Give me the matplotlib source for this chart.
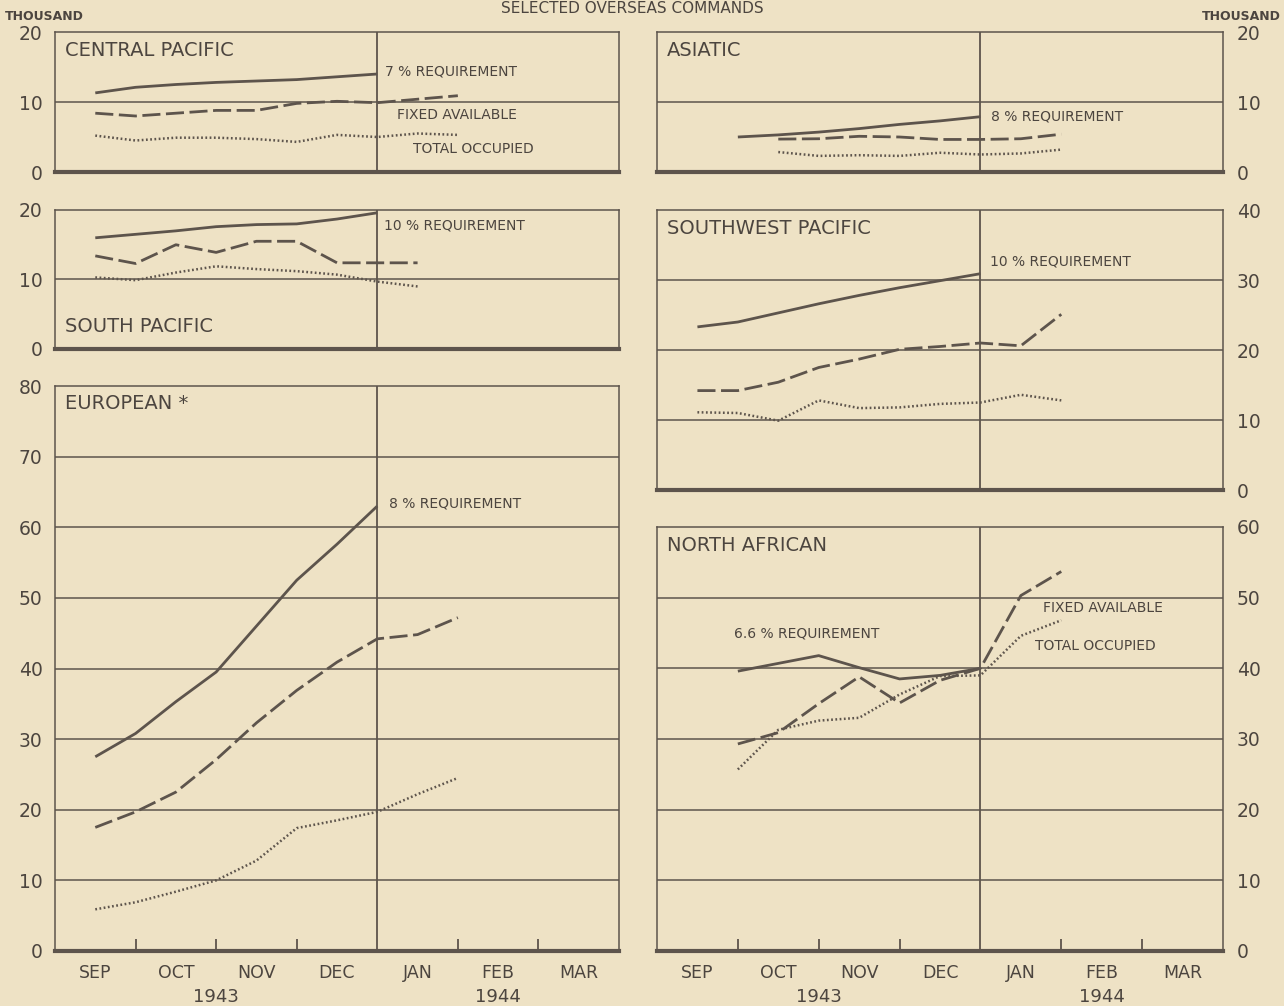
import matplotlib
matplotlib.use("Agg")
import matplotlib.pyplot as plt
import matplotlib.transforms as mtransforms

# ---------------- data (thousand beds) ----------------
# x positions: months elapsed since 1 Sep 1943 (0.5 = mid-Sep, 4.0 = 1 Jan 1944)
x_req_a = [0.5, 1.0, 1.5, 2.0, 2.5, 3.0, 3.5, 4.0]
x_avl_a = [0.5, 1.0, 1.5, 2.0, 2.5, 3.0, 3.5, 4.0, 4.5, 5.0]
x_avl_sp = [0.5, 1.0, 1.5, 2.0, 2.5, 3.0, 3.5, 4.0, 4.5]
x_req_b = [1.0, 1.5, 2.0, 2.5, 3.0, 3.5, 4.0]
x_avl_as = [1.5, 2.0, 2.5, 3.0, 3.5, 4.0, 4.5, 5.0]
x_avl_na = [1.0, 1.5, 2.0, 2.5, 3.0, 3.5, 4.0, 4.5, 5.0]

cp_req = [11.3, 12.1, 12.5, 12.8, 13.0, 13.2, 13.6, 14.0]
cp_fixed = [8.4, 8.0, 8.4, 8.8, 8.8, 9.8, 10.1, 9.9, 10.4, 10.9]
cp_occ = [5.2, 4.5, 4.9, 4.9, 4.7, 4.3, 5.3, 5.0, 5.5, 5.3]

sp_req = [16.0, 16.5, 17.0, 17.6, 17.9, 18.0, 18.7, 19.6]
sp_fixed = [13.4, 12.3, 15.0, 13.9, 15.5, 15.5, 12.4, 12.4, 12.4]
sp_occ = [10.3, 9.9, 11.0, 11.9, 11.5, 11.2, 10.7, 9.7, 9.0]

eu_req = [27.5, 30.8, 35.3, 39.5, 46.0, 52.5, 57.6, 63.0]
eu_fixed = [17.5, 19.7, 22.5, 27.1, 32.3, 36.9, 40.9, 44.2, 44.8, 47.2]
eu_occ = [5.9, 6.9, 8.4, 10.0, 12.8, 17.4, 18.5, 19.7, 22.2, 24.5]

as_req = [5.0, 5.3, 5.7, 6.2, 6.8, 7.3, 7.9]
as_fixed = [4.7, 4.75, 5.1, 5.0, 4.65, 4.65, 4.75, 5.4]
as_occ = [2.85, 2.3, 2.4, 2.3, 2.75, 2.5, 2.65, 3.2]

sw_req = [23.3, 24.0, 25.3, 26.6, 27.8, 28.9, 29.9, 30.9]
sw_fixed = [14.2, 14.2, 15.4, 17.5, 18.7, 20.1, 20.5, 21.0, 20.6, 25.1]
sw_occ = [11.1, 11.0, 9.9, 12.8, 11.7, 11.8, 12.3, 12.5, 13.6, 12.8]

na_req = [39.6, 40.7, 41.8, 40.1, 38.5, 39.0, 40.0]
na_fixed = [29.3, 30.9, 35.0, 38.8, 35.1, 38.3, 40.0, 50.3, 53.7]
na_occ = [25.7, 31.3, 32.6, 33.0, 36.3, 38.9, 39.0, 44.6, 46.8]

month_labels = ["SEP", "OCT", "NOV", "DEC", "JAN", "FEB", "MAR"]
year_labels = ["1943", "1944"]
title = "SELECTED OVERSEAS COMMANDS"

# ---------------- style ----------------
BG = "#eee2c5"
INK = "#5d544c"
TXT = "#4c453f"
plt.rcParams["font.family"] = ["DejaVu Sans"]

W, H = 1284, 1006
fig = plt.figure(figsize=(W / 100, H / 100), dpi=100, facecolor=BG)


def px_axes(x0, y_top, x1, y_bot):
    return fig.add_axes([x0 / W, 1 - y_bot / H, (x1 - x0) / W, (y_bot - y_top) / H])


def setup(ax, ymax, step, side, months=False):
    ax.set_facecolor(BG)
    ax.set_xlim(0, 7)
    ax.set_ylim(0, ymax)
    ticks = list(range(0, ymax + 1, step))
    ax.set_yticks(ticks)
    ax.set_yticklabels([str(t) for t in ticks])
    for t in ticks[1:-1]:
        ax.axhline(t, color=INK, lw=1.1, zorder=1)
    ax.axvline(4, color=INK, lw=1.3, zorder=1)
    for s in ["top", "left", "right"]:
        ax.spines[s].set_color(INK)
        ax.spines[s].set_linewidth(1.1)
    ax.spines["bottom"].set_color(INK)
    ax.spines["bottom"].set_linewidth(3.0)
    ax.tick_params(axis="y", length=0, labelsize=13.5, colors=TXT, pad=9)
    if side == "right":
        ax.yaxis.tick_right()
        ax.tick_params(axis="y", length=0, pad=10)
    if months:
        ax.set_xticks([1, 2, 3, 5, 6])
        ax.set_xticklabels([])
        ax.tick_params(axis="x", which="major", direction="in", length=9,
                       width=1.3, color=INK)
        ax.set_xticks([i + 0.5 for i in range(7)], minor=True)
        ax.set_xticklabels(month_labels, minor=True)
        ax.tick_params(axis="x", which="minor", length=0, labelsize=12.5,
                       colors=TXT, pad=9)
        tr = mtransforms.blended_transform_factory(ax.transData, fig.transFigure)
        ax.text(2.0, 1 - 997 / H, year_labels[0], transform=tr, ha="center",
                va="center", fontsize=13, color=TXT)
        ax.text(5.5, 1 - 997 / H, year_labels[1], transform=tr, ha="center",
                va="center", fontsize=13, color=TXT)
    else:
        ax.set_xticks([])


def draw(ax, xr, req, xa, fixed, xo, occ):
    ax.plot(xr, req, color=INK, lw=2.0, solid_capstyle="butt", zorder=3)
    ax.plot(xa, fixed, color=INK, lw=2.0, linestyle=(0, (6.5, 2.0)), zorder=3)
    ax.plot(xo, occ, color=INK, lw=1.8, linestyle=(0, (0.7, 1.0)), zorder=3)


def label(ax, x, y, s, size=10, ha="left"):
    ax.text(x, y, s, fontsize=size, color=TXT, ha=ha, va="center", zorder=4)


LX0, LX1 = 55, 619
RX0, RX1 = 657, 1223

# Central Pacific
ax = px_axes(LX0, 32, LX1, 172)
setup(ax, 20, 10, "left")
draw(ax, x_req_a, cp_req, x_avl_a, cp_fixed, x_avl_a, cp_occ)
label(ax, 0.12, 17.3, "CENTRAL PACIFIC", 14)
label(ax, 4.1, 14.3, "7 % REQUIREMENT")
label(ax, 4.24, 8.1, "FIXED AVAILABLE")
label(ax, 4.44, 3.3, "TOTAL OCCUPIED")

# South Pacific
ax = px_axes(LX0, 210, LX1, 349)
setup(ax, 20, 10, "left")
draw(ax, x_req_a, sp_req, x_avl_sp, sp_fixed, x_avl_sp, sp_occ)
label(ax, 0.12, 3.3, "SOUTH PACIFIC", 14)
label(ax, 4.08, 17.8, "10 % REQUIREMENT")

# European
ax = px_axes(LX0, 386, LX1, 951)
setup(ax, 80, 10, "left", months=True)
draw(ax, x_req_a, eu_req, x_avl_a, eu_fixed, x_avl_a, eu_occ)
label(ax, 0.12, 77.5, "EUROPEAN *", 14)
label(ax, 4.15, 63.3, "8 % REQUIREMENT")

# Asiatic
ax = px_axes(RX0, 32, RX1, 172)
setup(ax, 20, 10, "right")
draw(ax, x_req_b, as_req, x_avl_as, as_fixed, x_avl_as, as_occ)
label(ax, 0.12, 17.3, "ASIATIC", 14)
label(ax, 4.13, 7.9, "8 % REQUIREMENT")

# Southwest Pacific
ax = px_axes(RX0, 210, RX1, 490)
setup(ax, 40, 10, "right")
draw(ax, x_req_a, sw_req, x_avl_a, sw_fixed, x_avl_a, sw_occ)
label(ax, 0.12, 37.3, "SOUTHWEST PACIFIC", 14)
label(ax, 4.12, 32.6, "10 % REQUIREMENT")

# North African
ax = px_axes(RX0, 527, RX1, 951)
setup(ax, 60, 10, "right", months=True)
draw(ax, x_req_b, na_req, x_avl_na, na_fixed, x_avl_na, na_occ)
label(ax, 0.12, 57.4, "NORTH AFRICAN", 14)
label(ax, 0.95, 44.9, "6.6 % REQUIREMENT")
label(ax, 4.78, 48.6, "FIXED AVAILABLE")
label(ax, 4.67, 43.1, "TOTAL OCCUPIED")

# figure-level texts
fig.text(5 / W, 1 - 17 / H, "THOUSAND", fontsize=9, fontweight="bold",
         color=TXT, ha="left", va="center")
fig.text(1281 / W, 1 - 17 / H, "THOUSAND", fontsize=9, fontweight="bold",
         color=TXT, ha="right", va="center")
fig.text(632 / W, 1 - 1 / H, title, fontsize=11, color=TXT, ha="center",
         va="top")

fig.savefig("out.png", dpi=100, facecolor=BG)
